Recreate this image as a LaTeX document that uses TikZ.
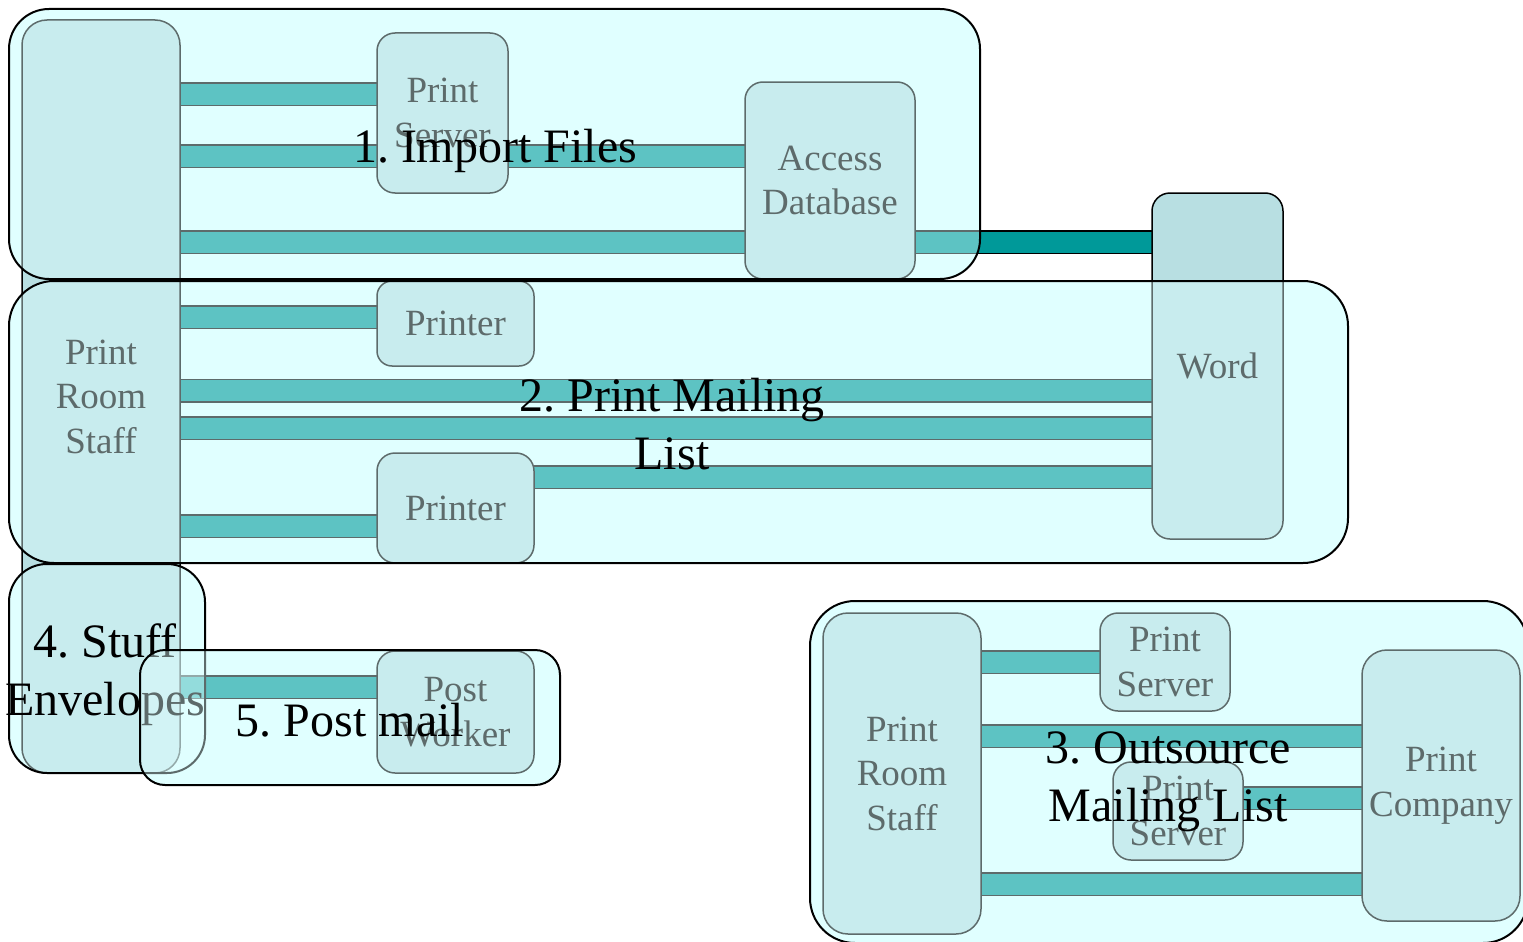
\documentclass[tikz,border=0pt]{standalone}
\usepackage{fontspec}
\setmainfont{Liberation Serif}
\frenchspacing
\definecolor{nodefill}{HTML}{B8DFE2}
\definecolor{grpfill}{HTML}{E0FFFF}
\definecolor{barfill}{HTML}{009999}
\pgfdeclarelayer{gbg}
\pgfdeclarelayer{bars}
\pgfdeclarelayer{over}
\pgfsetlayers{gbg,bars,main,over}
\tikzset{
  nd/.style={draw=black, line width=1.5pt, fill=nodefill, rounded corners=18pt,
    inner sep=0pt, outer sep=0pt, align=center,
    font=\fontsize{37}{44.5}\selectfont, text=black},
  bar/.style={draw=black, line width=1.5pt, double=barfill, double distance=21pt},
  grpbg/.style={fill=grpfill},
  grpov/.style={fill=grpfill, fill opacity=0.42, draw=black, line width=2pt},
  ttl/.style={align=center, font=\fontsize{48}{58}\selectfont, text=black, inner sep=0pt},
}
\begin{document}
\begin{tikzpicture}[x=1pt,y=-1pt]
\useasboundingbox (0,0) rectangle (1523,942);
% group backgrounds
\begin{pgfonlayer}{gbg}
  \clip (0,0) rectangle (1523,942);
  \fill[grpbg, rounded corners=40pt] (9,9) rectangle (980,279);
  \fill[grpbg, rounded corners=45pt] (9,281) rectangle (1348,563);
  \fill[grpbg, rounded corners=45pt] (810,601) rectangle (1528,943);
  \fill[grpbg, rounded corners=38pt] (9,564) rectangle (205,773);
  \fill[grpbg, rounded corners=25pt] (140,650) rectangle (560,785);
\end{pgfonlayer}
% nodes
\node[nd, rounded corners=25pt, minimum width=158pt, minimum height=753pt] (staff) at (101,396.5) {Print\\Room\\Staff};
\node[nd, minimum width=131pt, minimum height=160pt] (ps1) at (442.5,113) {Print\\Server};
\node[nd, minimum width=170pt, minimum height=197pt] (acc) at (830,180.5) {Access\\Database};
\node[nd, minimum width=131pt, minimum height=346pt] (word) at (1217.5,366) {Word};
\node[nd, rounded corners=15pt, minimum width=157pt, minimum height=85pt] (pr1) at (455.5,323.5) {Printer};
\node[nd, minimum width=157pt, minimum height=110pt] (pr2) at (455.5,508) {Printer};
\node[nd, minimum width=157pt, minimum height=122pt] (pw) at (455.5,712) {Post\\Worker};
\node[nd, rounded corners=25pt, minimum width=158pt, minimum height=321pt] (staff2) at (902,773.5) {Print\\Room\\Staff};
\node[nd, minimum width=130pt, minimum height=98pt] (ps2) at (1165,662) {Print\\Server};
\node[nd, minimum width=130pt, minimum height=98pt] (ps3) at (1178,811) {Print\\Server};
\node[nd, rounded corners=25pt, minimum width=158pt, minimum height=271pt] (comp) at (1441,785.5) {Print\\Company};
% bars
\begin{pgfonlayer}{bars}
  \draw[bar] (staff.east |- 0,94) -- (ps1.west |- 0,94);
  \draw[bar] (staff.east |- 0,156) -- (acc.west |- 0,156);
  \draw[bar] (staff.east |- 0,242) -- (acc.west |- 0,242);
  \draw[bar] (acc.east |- 0,242) -- (word.west |- 0,242);
  \draw[bar] (staff.east |- 0,317) -- (pr1.west |- 0,317);
  \draw[bar] (staff.east |- 0,390.5) -- (word.west |- 0,390.5);
  \draw[bar] (staff.east |- 0,428) -- (word.west |- 0,428);
  \draw[bar] (pr2.east |- 0,477) -- (word.west |- 0,477);
  \draw[bar] (staff.east |- 0,526) -- (pr2.west |- 0,526);
  \draw[bar] (staff.east |- 0,687) -- (pw.west |- 0,687);
  \draw[bar] (staff2.east |- 0,662) -- (ps2.west |- 0,662);
  \draw[bar] (staff2.east |- 0,736) -- (comp.west |- 0,736);
  \draw[bar] (ps3.east |- 0,798) -- (comp.west |- 0,798);
  \draw[bar] (staff2.east |- 0,884) -- (comp.west |- 0,884);
\end{pgfonlayer}
% group overlays and titles
\begin{pgfonlayer}{over}
  \begin{scope}
  \clip (0,0) rectangle (1523,942);
  \draw[grpov, rounded corners=40pt] (9,9) rectangle (980,279);
  \node[ttl] (t1) at (495,151) {1. Import Files};
  \draw[grpov, rounded corners=45pt] (9,281) rectangle (1348,563);
  \node[ttl] (t2) at (672,424) {2. Print Mailing\\List};
  \draw[grpov, rounded corners=45pt] (810,601) rectangle (1528,943);
  \node[ttl] (t3) at (1168,782) {3. Outsource\\Mailing List};
  \draw[grpov, rounded corners=38pt] (9,564) rectangle (205,773);
  \node[ttl] (t4) at (105,675) {4. Stuff\\Envelopes};
  \draw[grpov, rounded corners=25pt] (140,650) rectangle (560,785);
  \node[ttl] (t5) at (350,720) {5. Post mail};
  \end{scope}
\end{pgfonlayer}
\end{tikzpicture}
\end{document}
